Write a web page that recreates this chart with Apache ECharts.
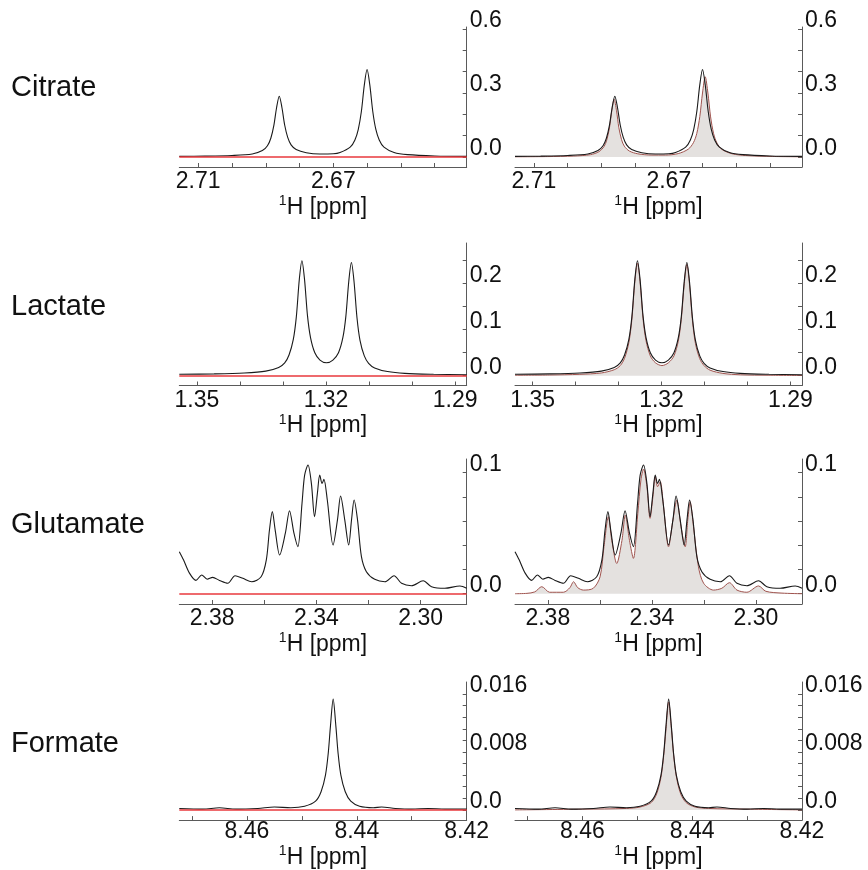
<!DOCTYPE html>
<html>
<head>
<meta charset="utf-8">
<script src="https://cdn.jsdelivr.net/npm/echarts@6/dist/echarts.min.js"></script>
<style>html,body{margin:0;padding:0;background:#fff}#c{width:868px;height:870px}</style>
</head>
<body>
<div id="c"></div>
<script>
// ---------- data (ppm, intensity) ----------
const metaboliteNames = ['Citrate', 'Lactate', 'Glutamate', 'Formate'];

const citrateExp = [[2.7156,.003],[2.708,.004],[2.700,.007],[2.694,.014],[2.691,.030],[2.6895,.053],[2.6885,.088],[2.6876,.148],[2.6868,.231],[2.686,.285],[2.6852,.231],[2.6844,.150],[2.6835,.092],[2.6825,.057],[2.681,.035],[2.678,.020],[2.674,.014],[2.670,.015],[2.668,.021],[2.665,.046],[2.6636,.080],[2.6626,.130],[2.6617,.212],[2.6608,.339],[2.660,.41],[2.6592,.339],[2.6583,.212],[2.6574,.129],[2.6564,.080],[2.655,.046],[2.652,.021],[2.648,.011],[2.640,.005],[2.6305,.003]];
const citrateFit = [[2.7156,.001],[2.706,.002],[2.6982,.0045],[2.6932,.011],[2.6907,.025],[2.6892,.049],[2.6884,.079],[2.6876,.136],[2.6869,.217],[2.6862,.271],[2.6855,.217],[2.6848,.137],[2.684,.081],[2.6832,.051],[2.6817,.028],[2.6792,.015],[2.675,.009],[2.671,.009],[2.6672,.016],[2.6642,.037],[2.6627,.067],[2.6617,.11],[2.6608,.19],[2.66,.30],[2.6592,.376],[2.6584,.30],[2.6576,.188],[2.6567,.109],[2.6557,.065],[2.6542,.035],[2.6512,.015],[2.6472,.007],[2.6392,.0025],[2.6305,.001]];

const lactateExp = [[1.3541,.003],[1.346,.004],[1.339,.006],[1.334,.010],[1.331,.018],[1.3296,.028],[1.3286,.045],[1.3276,.079],[1.3269,.128],[1.3262,.21],[1.3256,.25],[1.325,.21],[1.3243,.13],[1.3236,.083],[1.3226,.05],[1.3214,.034],[1.3199,.028],[1.3184,.034],[1.3171,.05],[1.3161,.082],[1.3154,.128],[1.3147,.206],[1.3141,.246],[1.3135,.206],[1.3128,.126],[1.3121,.077],[1.3111,.043],[1.3101,.027],[1.3087,.017],[1.3057,.009],[1.3017,.005],[1.295,.003],[1.2873,.002]];
const lactateFit = [[1.3541,.001],[1.346,.0015],[1.339,.003],[1.334,.006],[1.331,.013],[1.3296,.022],[1.3286,.038],[1.3276,.072],[1.3269,.122],[1.3262,.205],[1.3256,.245],[1.325,.205],[1.3243,.124],[1.3236,.076],[1.3226,.043],[1.3214,.028],[1.3199,.022],[1.3184,.028],[1.3171,.043],[1.3161,.075],[1.3154,.122],[1.3147,.2],[1.3141,.242],[1.3135,.2],[1.3128,.12],[1.3121,.07],[1.3111,.037],[1.3101,.022],[1.3087,.012],[1.3057,.005],[1.3017,.002],[1.295,.001],[1.2873,.0005]];

const glutamateExp = [[2.3926,.0347],[2.3910,.028],[2.3887,.017],[2.3862,.011],[2.3840,.0155],[2.3819,.012],[2.3798,.0135],[2.3772,.011],[2.3740,.0086],[2.3712,.0149],[2.3682,.0127],[2.3648,.0099],[2.3612,.014],[2.3592,.028],[2.3580,.0526],[2.3569,.0678],[2.3558,.0526],[2.3541,.032],[2.3519,.05],[2.3503,.0686],[2.3486,.05],[2.3471,.0389],[2.3455,.0747],[2.3445,.098],[2.3432,.1064],[2.3419,.091],[2.3407,.0636],[2.3396,.083],[2.3387,.098],[2.3378,.091],[2.3371,.0945],[2.3358,.0774],[2.3336,.0402],[2.3319,.061],[2.3307,.0807],[2.3291,.061],[2.3276,.0402],[2.3265,.061],[2.3255,.0774],[2.3242,.061],[2.3227,.0306],[2.3208,.0182],[2.3176,.0119],[2.3137,.0099],[2.3102,.0149],[2.3073,.0086],[2.3035,.0066],[2.2990,.0107],[2.2958,.0058],[2.2907,.0045],[2.2849,.0064],[2.2823,.0045]];
const glutamateFit = [[2.3926,0],[2.3880,.0003],[2.3850,.0015],[2.3823,.0058],[2.3793,.0012],[2.3740,.0012],[2.3715,.005],[2.3701,.0099],[2.3685,.005],[2.3663,.003],[2.3625,.0045],[2.3599,.014],[2.3584,.039],[2.3567,.0636],[2.3554,.044],[2.3535,.025],[2.3515,.044],[2.3502,.065],[2.3486,.044],[2.3471,.0292],[2.3454,.0664],[2.3442,.094],[2.3432,.103],[2.3419,.0884],[2.3407,.0623],[2.3396,.080],[2.3387,.0967],[2.3378,.0884],[2.3368,.0926],[2.3355,.0719],[2.3336,.0388],[2.3319,.061],[2.3304,.0774],[2.3288,.0554],[2.3272,.0388],[2.3262,.061],[2.3253,.076],[2.3240,.0554],[2.3221,.0223],[2.3201,.0086],[2.3163,.003],[2.3131,.0045],[2.3102,.0091],[2.3073,.003],[2.3035,.0012],[2.2990,.0064],[2.2962,.002],[2.2900,.0005],[2.2823,0]];

const formateExp = [[8.4723,.0002],[8.468,.0001],[8.465,.0003],[8.462,.0001],[8.458,.0002],[8.455,.0004],[8.452,.0003],[8.4495,.0005],[8.4475,.0012],[8.4465,.0025],[8.4457,.0048],[8.4452,.0078],[8.4448,.0115],[8.4443,.0153],[8.4438,.0115],[8.4434,.0078],[8.4429,.0048],[8.4421,.0025],[8.4411,.0012],[8.4395,.0005],[8.437,.0003],[8.4355,.0004],[8.433,.0002],[8.43,.0001],[8.427,.0002],[8.424,.0001],[8.42,.0001]];
const formateFit = [[8.4723,0],[8.46,.0001],[8.452,.0002],[8.4495,.0004],[8.4475,.001],[8.4465,.0022],[8.4457,.0045],[8.4452,.0075],[8.4448,.011],[8.4443,.0149],[8.4438,.0112],[8.4434,.0076],[8.4429,.0046],[8.4421,.0022],[8.4411,.001],[8.4395,.0004],[8.437,.0002],[8.43,.0001],[8.42,0]];

// tick values and tick labels
const citrateXTicks = [2.63,2.64,2.65,2.66,2.67,2.68,2.69,2.70,2.71];
const citrateXLabels = [2.63,2.67,2.71];
const citrateXText = ['2.63','2.67','2.71'];
const citrateYTicks = [0,0.1,0.2,0.3,0.4,0.5,0.6];
const citrateYLabels = [0,0.3,0.6];
const citrateYText = ['0.0','0.3','0.6'];

const lactateXTicks = [1.29,1.30,1.31,1.32,1.33,1.34,1.35];
const lactateXLabels = [1.29,1.32,1.35];
const lactateXText = ['1.29','1.32','1.35'];
const lactateYTicks = [0,0.05,0.1,0.15,0.2,0.25];
const lactateYLabels = [0,0.1,0.2];
const lactateYText = ['0.0','0.1','0.2'];

const glutamateXTicks = [2.30,2.32,2.34,2.36,2.38];
const glutamateXLabels = [2.30,2.34,2.38];
const glutamateXText = ['2.30','2.34','2.38'];
const glutamateYTicks = [0,0.02,0.04,0.06,0.08,0.1];
const glutamateYLabels = [0,0.1];
const glutamateYText = ['0.0','0.1'];

const formateXTicks = [8.42,8.43,8.44,8.45,8.46,8.47];
const formateXLabels = [8.42,8.44,8.46];
const formateXText = ['8.42','8.44','8.46'];
const formateYTicks = [0,0.0016,0.0032,0.0048,0.0064,0.008,0.0096,0.0112,0.0128,0.0144,0.016];
const formateYLabels = [0,0.008,0.016];
const formateYText = ['0.0','0.008','0.016'];

// ---------- layout ----------
const FONT = '"Liberation Sans", Arial, sans-serif';
const rows = [
  {exp: citrateExp, fit: citrateFit, xMin: 2.6305, xMax: 2.7156, yMin: -0.0469, yMax: 0.6095,
   xT: citrateXTicks, xL: citrateXLabels, xS: citrateXText, yT: citrateYTicks, yL: citrateYLabels, yS: citrateYText,
   top: 27, bottom: 167, lm: 4, ng: 25, ty: 88},
  {exp: lactateExp, fit: lactateFit, xMin: 1.2873, xMax: 1.3541, yMin: -0.0213, yMax: 0.2885,
   xT: lactateXTicks, xL: lactateXLabels, xS: lactateXText, yT: lactateYTicks, yL: lactateYLabels, yS: lactateYText,
   top: 243, bottom: 385.5, lm: 4, ng: 25, ty: 306.5},
  {exp: glutamateExp, fit: glutamateFit, xMin: 2.2823, xMax: 2.3926, yMin: -0.0085, yMax: 0.1113,
   xT: glutamateXTicks, xL: glutamateXLabels, xS: glutamateXText, yT: glutamateYTicks, yL: glutamateYLabels, yS: glutamateYText,
   top: 459, bottom: 604, lm: 4, ng: 25, ty: 525},
  {exp: formateExp, fit: formateFit, xMin: 8.42, xMax: 8.4723, yMin: -0.00141, yMax: 0.01767,
   xT: formateXTicks, xL: formateXLabels, xS: formateXText, yT: formateYTicks, yL: formateYLabels, yS: formateYText,
   top: 682, bottom: 822.7, lm: 1, ng: 23, ty: 743.5}
];
const cols = [{left: 179.3, width: 287.4}, {left: 515, width: 287}];

function pick(vals, texts) {
  return function (v) {
    for (let i = 0; i < vals.length; i++) if (Math.abs(vals[i] - v) < 1e-7) return texts[i];
    return '';
  };
}

const AXIS_COLOR = '#5a5a5a';
const grid = [], xAxis = [], yAxis = [], series = [], title = [];
rows.forEach((r, ri) => {
  title.push({text: metaboliteNames[ri], left: 11, top: r.ty - 15, padding: 0,
    textStyle: {fontSize: 29, fontWeight: 'normal', fontFamily: FONT, color: '#111', lineHeight: 30}});
  cols.forEach((c, ci) => {
    const gi = grid.length;
    grid.push({left: c.left, top: r.top, width: c.width, height: r.bottom - r.top, containLabel: false});
    xAxis.push({
      type: 'value', gridIndex: gi, min: r.xMin, max: r.xMax, inverse: true, position: 'bottom',
      axisLine: {show: true, onZero: false, lineStyle: {color: AXIS_COLOR, width: 1}},
      axisTick: {show: true, inside: true, length: 4, customValues: r.xT, lineStyle: {color: AXIS_COLOR}},
      axisLabel: {customValues: r.xL, formatter: pick(r.xL, r.xS), fontSize: 23, fontFamily: FONT, color: '#111',
        margin: r.lm, lineHeight: 22},
      splitLine: {show: false},
      name: '{s|1}{n|H [ppm]}', nameLocation: 'middle', nameGap: r.ng,
      nameTextStyle: {fontFamily: FONT, color: '#111', rich: {
        s: {fontSize: 14, fontFamily: FONT, color: '#111', verticalAlign: 'top', lineHeight: 10},
        n: {fontSize: 23, fontFamily: FONT, color: '#111', lineHeight: 26}
      }}
    });
    yAxis.push({
      type: 'value', gridIndex: gi, min: r.yMin, max: r.yMax, position: 'right',
      axisLine: {show: true, onZero: false, lineStyle: {color: AXIS_COLOR, width: 1}},
      axisTick: {show: true, inside: true, length: 4, customValues: r.yT, lineStyle: {color: AXIS_COLOR}},
      axisLabel: {customValues: r.yL, formatter: pick(r.yL, r.yS), fontSize: 23, fontFamily: FONT, color: '#111',
        margin: 3, verticalAlign: 'bottom', lineHeight: 16, align: 'left'},
      splitLine: {show: false}
    });
    if (ci === 0) {
      series.push({
        type: 'line', xAxisIndex: gi, yAxisIndex: gi, data: r.exp, showSymbol: false, symbol: 'none',
        smooth: 0.3, lineStyle: {color: '#1a1a1a', width: 1.1}, z: 3,
        markLine: {silent: true, symbol: ['none', 'none'], label: {show: false},
          lineStyle: {color: '#e8383d', width: 1.5, type: 'solid'}, data: [{yAxis: 0}]}
      });
    } else {
      series.push({
        type: 'line', xAxisIndex: gi, yAxisIndex: gi, data: r.fit, showSymbol: false, symbol: 'none',
        smooth: 0.3, lineStyle: {color: '#a0544f', width: 1}, areaStyle: {color: '#e4e1df', opacity: 1}, z: 2
      });
      series.push({
        type: 'line', xAxisIndex: gi, yAxisIndex: gi, data: r.exp, showSymbol: false, symbol: 'none',
        smooth: 0.3, lineStyle: {color: '#1a1a1a', width: 1.1}, z: 3
      });
    }
  });
});

const chart = echarts.init(document.getElementById('c'), null, {renderer: 'canvas'});
chart.setOption({animation: false, backgroundColor: '#fff', title, grid, xAxis, yAxis, series});
</script>
</body>
</html>
